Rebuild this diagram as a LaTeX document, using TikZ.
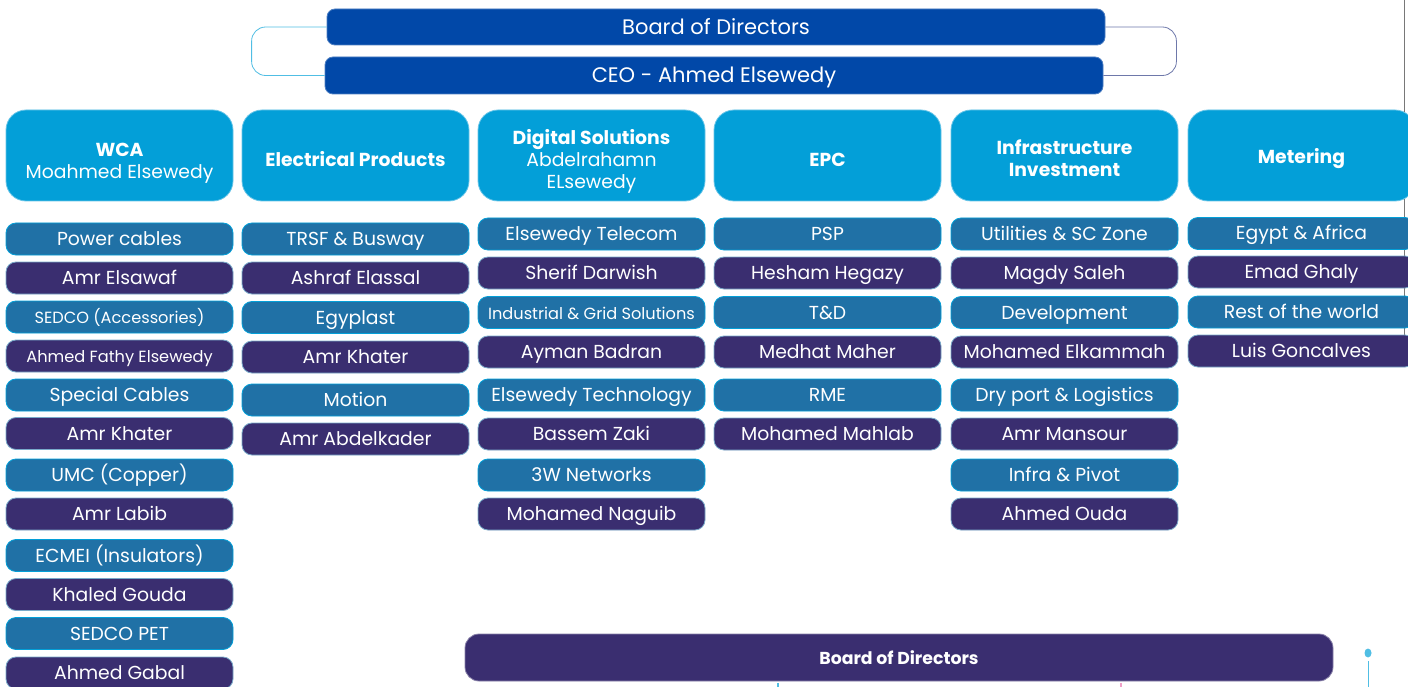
\documentclass[tikz,border=0pt]{standalone}
\usepackage{fontspec}
\setmainfont{Poppins}
\usetikzlibrary{calc}
\definecolor{TopClr}{RGB}{1,72,168}
\definecolor{HeadClr}{RGB}{3,159,216}
\definecolor{UnitClr}{RGB}{32,113,166}
\definecolor{NameClr}{RGB}{58,46,112}
\definecolor{LinkClr}{RGB}{80,190,228}
\definecolor{LinkClrB}{RGB}{110,120,170}
\definecolor{EdgeClr}{RGB}{120,120,120}
\definecolor{TickClr}{RGB}{240,160,200}
\newcommand{\hdstrut}[1]{\rule{0pt}{#1pt}}

\begin{document}
\begin{tikzpicture}[x=1pt,y=-1pt,
  topbox/.style={fill=TopClr,draw=TopClr!70!white,line width=.8pt,rounded corners=8pt,minimum width=778pt,minimum height=36pt,inner sep=0pt,text=white,text height=16pt,text depth=1pt,font=\fontsize{21}{22}\selectfont},
  headbox/.style={fill=HeadClr,draw=HeadClr!60!white,line width=.8pt,rounded corners=20pt,minimum width=227pt,minimum height=91pt,inner sep=0pt,text=white,align=center,font=\fontsize{18.8}{22}\selectfont},
  unitbox/.style={fill=UnitClr,draw=HeadClr,line width=.8pt,rounded corners=10pt,minimum width=227pt,minimum height=32pt,inner sep=0pt,text=white,text height=15pt,text depth=2pt,font=\fontsize{18.8}{20}\selectfont},
  namebox/.style={unitbox,fill=NameClr,draw=UnitClr!60!white},
  smalltext/.style={font=\fontsize{16.2}{18}\selectfont}]

\fill[white] (0,0) rectangle (1408,687);
\useasboundingbox (0,0) rectangle (1408,687);

\draw[EdgeClr,line width=.8pt] (1404,0) -- (1404,367);

% top
\node[topbox] (bod) at (716,27) {Board of Directors};
\node[topbox,minimum height=37pt] (ceo) at (714,75.5) {CEO - Ahmed Elsewedy};

\draw[LinkClr,line width=.8pt,rounded corners=14pt] (bod.west) -- ++(-75,0) |- (ceo.west);
\draw[LinkClrB,line width=.8pt,rounded corners=14pt] (bod.east) -- ++(71,0) |- (ceo.east);

% sectors
\node[headbox] (wca) at (119.5,155.5) {\hdstrut{28}\textbf{WCA}\\Moahmed Elsewedy};
\node[headbox] (elec) at (355.5,155.5) {\hdstrut{22}\textbf{Electrical Products}};
\node[headbox] (digi) at (591.5,155.5) {\hdstrut{26}\textbf{Digital Solutions}\\Abdelrahamn\\ELsewedy};
\node[headbox] (epc) at (827.5,155.5) {\hdstrut{22}\textbf{EPC}};
\node[headbox] (infra) at (1064.5,155.5) {\hdstrut{20}\textbf{Infrastructure}\\\textbf{Investment}};
\node[headbox] (meter) at (1301.5,155.5) {\hdstrut{22}\textbf{Metering}};

% WCA
\node[unitbox] (wca1) at (119.5,239) {Power cables};
\node[namebox] (wca2) at (119.5,278) {Amr Elsawaf};
\node[unitbox,smalltext] (wca3) at (119.5,317) {SEDCO (Accessories)};
\node[namebox,smalltext] (wca4) at (119.5,356) {Ahmed Fathy Elsewedy};
\node[unitbox] (wca5) at (119.5,395) {Special Cables};
\node[namebox] (wca6) at (119.5,433.5) {Amr Khater};
\node[unitbox] (wca7) at (119.5,475) {UMC (Copper)};
\node[namebox] (wca8) at (119.5,514) {Amr Labib};
\node[unitbox] (wca9) at (119.5,555.5) {ECMEI (Insulators)};
\node[namebox] (wca10) at (119.5,594.5) {Khaled Gouda};
\node[unitbox] (wca11) at (119.5,633.5) {SEDCO PET};
\node[namebox] (wca12) at (119.5,673) {Ahmed Gabal};

% electrical products
\node[unitbox] (elec1) at (355.5,239) {TRSF \& Busway};
\node[namebox] (elec2) at (355.5,278) {Ashraf Elassal};
\node[unitbox] (elec3) at (355.5,317.5) {Egyplast};
\node[namebox] (elec4) at (355.5,357) {Amr Khater};
\node[unitbox] (elec5) at (355.5,400) {Motion};
\node[namebox] (elec6) at (355.5,439) {Amr Abdelkader};

% digital solutions
\node[unitbox] (digi1) at (591.5,234) {Elsewedy Telecom};
\node[namebox] (digi2) at (591.5,273) {Sherif Darwish};
\node[unitbox,smalltext] (digi3) at (591.5,312.5) {Industrial \& Grid Solutions};
\node[namebox] (digi4) at (591.5,352) {Ayman Badran};
\node[unitbox] (digi5) at (591.5,395) {Elsewedy Technology};
\node[namebox] (digi6) at (591.5,434) {Bassem Zaki};
\node[unitbox] (digi7) at (591.5,475) {3W Networks};
\node[namebox] (digi8) at (591.5,514) {Mohamed Naguib};

% EPC
\node[unitbox] (epc1) at (827.5,234) {PSP};
\node[namebox] (epc2) at (827.5,273) {Hesham Hegazy};
\node[unitbox] (epc3) at (827.5,312.5) {T\&D};
\node[namebox] (epc4) at (827.5,352) {Medhat Maher};
\node[unitbox] (epc5) at (827.5,395) {RME};
\node[namebox] (epc6) at (827.5,434) {Mohamed Mahlab};

% infrastructure
\node[unitbox] (infra1) at (1064.5,234) {Utilities \& SC Zone};
\node[namebox] (infra2) at (1064.5,273) {Magdy Saleh};
\node[unitbox] (infra3) at (1064.5,312.5) {Development};
\node[namebox] (infra4) at (1064.5,352) {Mohamed Elkammah};
\node[unitbox] (infra5) at (1064.5,395) {Dry port \& Logistics};
\node[namebox] (infra6) at (1064.5,434) {Amr Mansour};
\node[unitbox] (infra7) at (1064.5,475) {Infra \& Pivot};
\node[namebox] (infra8) at (1064.5,514) {Ahmed Ouda};

% metering
\node[unitbox] (meter1) at (1301.5,233.5) {Egypt \& Africa};
\node[namebox] (meter2) at (1301.5,272) {Emad Ghaly};
\node[unitbox] (meter3) at (1301.5,312) {Rest of the world};
\node[namebox] (meter4) at (1301.5,351) {Luis Goncalves};

% bottom
\node[fill=NameClr,draw=NameClr!60!white,line width=.8pt,rounded corners=14pt,minimum width=868pt,minimum height=47pt,inner sep=0pt,text=white,font=\bfseries\fontsize{17.3}{18}\selectfont] (bot) at (899,657.5) {Board of Directors};

\coordinate (dot) at (1368,653);
\coordinate (dotEnd) at (1368,687);
\coordinate (tickA) at (778,687);
\coordinate (tickB) at (1121,687);
\fill[LinkClr] (dot) ellipse (3.5 and 4.5);
\draw[LinkClr,line width=1pt] ($(dot)+(0,8)$) -- (dotEnd);
\draw[LinkClr,line width=1.5pt] ($(bot.south)+(-121,1.5)$) -- (tickA);
\draw[TickClr,line width=1.5pt] ($(bot.south)+(222,1.5)$) -- (tickB);

\end{tikzpicture}
\end{document}
